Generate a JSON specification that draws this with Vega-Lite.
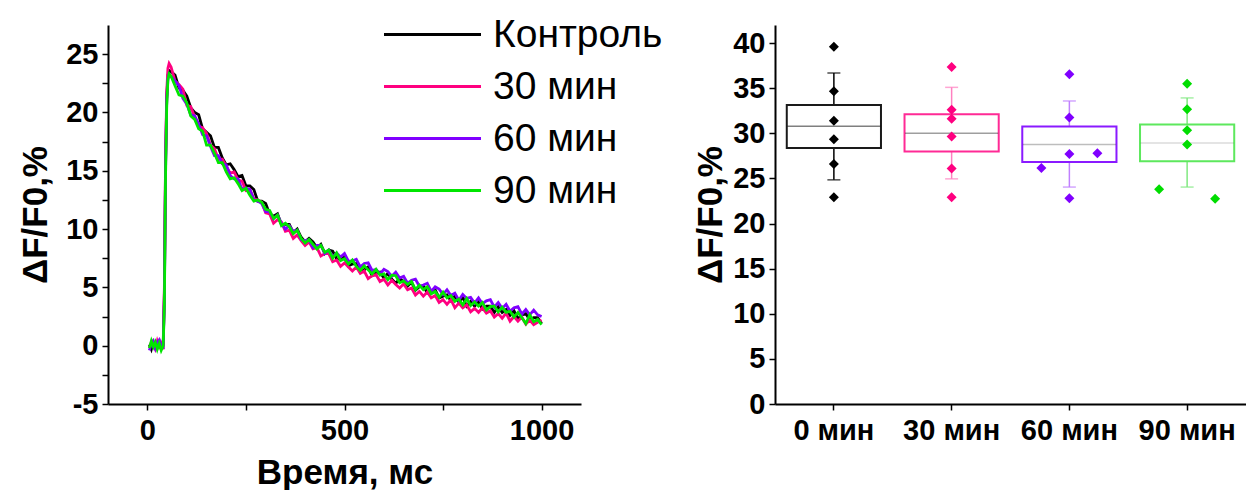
{
  "$schema": "https://vega.github.io/schema/vega-lite/v6.json",
  "padding": {"left": 18, "top": 15, "right": 0, "bottom": 0},
  "autosize": {"type": "pad"},
  "spacing": 30,
  "config": {
    "view": {"stroke": null},
    "font": "Liberation Sans",
    "axis": {
      "domainColor": "#000000", "domainWidth": 2, "tickColor": "#000000", "tickWidth": 1.5, "tickSize": 6,
      "labelFont": "Liberation Sans", "labelFontSize": 29, "labelFontWeight": "bold", "labelColor": "#000000",
      "titleFont": "Liberation Sans", "titleFontSize": 35, "titleFontWeight": "bold", "titleColor": "#000000",
      "grid": false
    }
  },
  "datasets": {
    "traces": [
      {"t":5,"Контроль":0.1,"30 мин":-0.2,"60 мин":-0.4,"90 мин":-0.2},
      {"t":10,"Контроль":-0.3,"30 мин":0.3,"60 мин":0.2,"90 мин":0.4},
      {"t":15,"Контроль":0.3,"30 мин":0.0,"60 мин":0.4,"90 мин":-0.1},
      {"t":20,"Контроль":-0.1,"30 мин":-0.3,"60 мин":-0.2,"90 мин":0.3},
      {"t":25,"Контроль":0.2,"30 мин":0.4,"60 мин":0.3,"90 мин":-0.3},
      {"t":30,"Контроль":0.4,"30 мин":-0.1,"60 мин":0.5,"90 мин":0.2},
      {"t":35,"Контроль":-0.2,"30 мин":0.2,"60 мин":0.0,"90 мин":-0.4},
      {"t":40,"Контроль":0.1,"30 мин":-0.3,"60 мин":-0.1,"90 мин":0.0},
      {"t":43,"Контроль":4.5,"30 мин":5.0,"60 мин":4.0,"90 мин":3.5},
      {"t":46,"Контроль":15.5,"30 мин":16.0,"60 мин":15.0,"90 мин":14.5},
      {"t":49,"Контроль":21.2,"30 мин":21.8,"60 мин":21.0,"90 мин":20.6},
      {"t":52,"Контроль":23.2,"30 мин":23.8,"60 мин":22.9,"90 мин":22.8},
      {"t":55,"Контроль":23.6,"30 мин":24.2,"60 мин":23.3,"90 мин":23.3},
      {"t":60,"Контроль":23.5,"30 мин":23.9,"60 мин":23.1,"90 мин":23.1},
      {"t":70,"Контроль":23.2,"30 мин":22.7,"60 мин":22.7,"90 мин":22.3},
      {"t":80,"Контроль":22.1,"30 мин":22.4,"60 мин":22.3,"90 мин":21.5},
      {"t":90,"Контроль":21.9,"30 мин":22.0,"60 мин":21.2,"90 мин":21.4},
      {"t":100,"Контроль":21.4,"30 мин":20.6,"60 мин":20.7,"90 мин":20.8},
      {"t":110,"Контроль":20.4,"30 мин":20.5,"60 мин":19.8,"90 мин":19.7},
      {"t":120,"Контроль":20.0,"30 мин":19.6,"60 мин":19.7,"90 мин":19.4},
      {"t":130,"Контроль":19.8,"30 мин":18.8,"60 мин":19.0,"90 мин":18.6},
      {"t":140,"Контроль":18.6,"30 мин":18.7,"60 мин":18.1,"90 мин":18.4},
      {"t":150,"Контроль":18.3,"30 мин":18.2,"60 мин":18.0,"90 мин":17.2},
      {"t":160,"Контроль":18.0,"30 мин":17.2,"60 мин":17.1,"90 мин":17.2},
      {"t":170,"Контроль":17.0,"30 мин":16.9,"60 мин":16.3,"90 мин":16.5},
      {"t":180,"Контроль":17.0,"30 мин":16.0,"60 мин":16.3,"90 мин":15.7},
      {"t":190,"Контроль":16.1,"30 мин":16.0,"60 мин":15.6,"90 мин":15.7},
      {"t":200,"Контроль":15.5,"30 мин":15.4,"60 мин":15.5,"90 мин":14.9},
      {"t":210,"Контроль":15.6,"30 мин":14.8,"60 мин":14.6,"90 мин":14.3},
      {"t":220,"Контроль":15.1,"30 мин":14.9,"60 мин":14.3,"90 мин":14.4},
      {"t":230,"Контроль":14.5,"30 мин":14.2,"60 мин":14.3,"90 мин":13.9},
      {"t":240,"Контроль":14.6,"30 мин":14.1,"60 мин":13.4,"90 мин":13.3},
      {"t":250,"Контроль":13.7,"30 мин":13.3,"60 мин":13.5,"90 мин":13.5},
      {"t":260,"Контроль":13.7,"30 мин":13.4,"60 мин":13.4,"90 мин":12.9},
      {"t":270,"Контроль":13.4,"30 мин":12.6,"60 мин":12.5,"90 мин":12.4},
      {"t":280,"Контроль":12.4,"30 мин":12.5,"60 мин":12.4,"90 мин":12.5},
      {"t":290,"Контроль":12.4,"30 мин":12.3,"60 мин":12.2,"90 мин":12.3},
      {"t":300,"Контроль":12.2,"30 мин":11.4,"60 мин":11.5,"90 мин":11.7},
      {"t":310,"Контроль":11.3,"30 мин":11.3,"60 мин":11.5,"90 мин":11.6},
      {"t":320,"Контроль":11.1,"30 мин":10.5,"60 мин":10.9,"90 мин":10.9},
      {"t":330,"Контроль":11.3,"30 мин":10.8,"60 мин":11.2,"90 мин":11.2},
      {"t":340,"Контроль":10.4,"30 мин":10.6,"60 мин":10.5,"90 мин":10.3},
      {"t":350,"Контроль":10.4,"30 мин":9.8,"60 мин":10.0,"90 мин":10.5},
      {"t":360,"Контроль":10.4,"30 мин":9.9,"60 мин":10.3,"90 мин":10.2},
      {"t":370,"Контроль":9.7,"30 мин":9.2,"60 мин":9.8,"90 мин":9.6},
      {"t":380,"Контроль":10.0,"30 мин":9.5,"60 мин":9.9,"90 мин":9.9},
      {"t":390,"Контроль":9.3,"30 мин":9.0,"60 мин":9.1,"90 мин":9.2},
      {"t":400,"Контроль":8.9,"30 мин":8.6,"60 мин":9.0,"90 мин":8.8},
      {"t":410,"Контроль":9.2,"30 мин":8.9,"60 мин":9.1,"90 мин":9.1},
      {"t":420,"Контроль":8.9,"30 мин":8.3,"60 мин":8.4,"90 мин":8.7},
      {"t":430,"Контроль":8.4,"30 мин":8.4,"60 мин":8.6,"90 мин":8.3},
      {"t":440,"Контроль":8.7,"30 мин":7.7,"60 мин":8.6,"90 мин":8.6},
      {"t":450,"Контроль":7.9,"30 мин":7.9,"60 мин":7.9,"90 мин":8.0},
      {"t":460,"Контроль":8.2,"30 мин":7.9,"60 мин":8.2,"90 мин":8.2},
      {"t":470,"Контроль":8.1,"30 мин":7.2,"60 мин":7.6,"90 мин":7.5},
      {"t":480,"Контроль":7.45,"30 мин":7.35,"60 мин":7.95,"90 мин":7.95},
      {"t":490,"Контроль":7.4,"30 мин":6.8,"60 мин":7.6,"90 мин":7.3},
      {"t":500,"Контроль":7.6,"30 мин":7.1,"60 мин":7.9,"90 мин":7.45},
      {"t":510,"Контроль":6.85,"30 мин":6.75,"60 мин":7.25,"90 мин":7.0},
      {"t":520,"Контроль":7.0,"30 мин":6.4,"60 мин":7.25,"90 мин":7.35},
      {"t":530,"Контроль":7.05,"30 мин":6.75,"60 мин":7.4,"90 мин":6.8},
      {"t":540,"Контроль":6.5,"30 мин":6.2,"60 мин":6.75,"90 мин":6.45},
      {"t":550,"Контроль":6.5,"30 мин":6.4,"60 мин":7.05,"90 мин":6.85},
      {"t":560,"Контроль":6.75,"30 мин":5.75,"60 мин":7.1,"90 мин":6.5},
      {"t":570,"Контроль":6.0,"30 мин":6.0,"60 мин":6.45,"90 мин":6.15},
      {"t":580,"Контроль":6.2,"30 мин":6.1,"60 мин":6.55,"90 мин":6.55},
      {"t":590,"Контроль":6.3,"30 мин":5.5,"60 мин":6.15,"90 мин":6.05},
      {"t":600,"Контроль":5.8,"30 мин":5.7,"60 мин":6.55,"90 мин":6.15},
      {"t":610,"Контроль":6.2,"30 мин":5.2,"60 мин":6.35,"90 мин":5.65},
      {"t":620,"Контроль":5.7,"30 мин":5.6,"60 мин":5.95,"90 мин":6.05},
      {"t":630,"Контроль":5.35,"30 мин":5.25,"60 мин":6.3,"90 мин":6.0},
      {"t":640,"Контроль":5.75,"30 мин":4.95,"60 мин":5.8,"90 мин":5.4},
      {"t":650,"Контроль":5.5,"30 мин":5.3,"60 мин":5.95,"90 мин":5.55},
      {"t":660,"Контроль":5.1,"30 мин":4.8,"60 мин":5.35,"90 мин":5.25},
      {"t":670,"Контроль":5.45,"30 мин":4.95,"60 мин":5.6,"90 мин":5.5},
      {"t":680,"Контроль":4.75,"30 мин":4.35,"60 мин":5.7,"90 мин":4.8},
      {"t":690,"Контроль":5.05,"30 мин":4.65,"60 мин":5.1,"90 мин":5.2},
      {"t":700,"Контроль":5.15,"30 мин":4.25,"60 мин":5.2,"90 мин":4.8},
      {"t":710,"Контроль":4.5,"30 мин":4.6,"60 мин":5.35,"90 мин":5.05},
      {"t":720,"Контроль":4.5,"30 мин":4.1,"60 мин":4.65,"90 мин":4.45},
      {"t":730,"Контроль":4.8,"30 мин":4.3,"60 мин":5.05,"90 мин":4.65},
      {"t":740,"Контроль":4.1,"30 мин":3.7,"60 мин":4.85,"90 мин":4.15},
      {"t":750,"Контроль":4.25,"30 мин":3.95,"60 мин":4.4,"90 мин":4.6},
      {"t":760,"Контроль":4.35,"30 мин":3.55,"60 мин":4.8,"90 мин":4.1},
      {"t":770,"Контроль":3.85,"30 мин":3.95,"60 мин":4.3,"90 мин":4.3},
      {"t":780,"Контроль":4.25,"30 мин":3.25,"60 мин":4.5,"90 мин":3.8},
      {"t":790,"Контроль":3.75,"30 мин":3.65,"60 мин":3.9,"90 мин":4.0},
      {"t":800,"Контроль":4.15,"30 мин":3.25,"60 мин":4.4,"90 мин":3.5},
      {"t":810,"Контроль":3.4,"30 мин":3.5,"60 мин":4.05,"90 мин":4.05},
      {"t":820,"Контроль":3.8,"30 мин":2.9,"60 мин":4.15,"90 мин":3.45},
      {"t":830,"Контроль":3.4,"30 мин":3.2,"60 мин":3.65,"90 мин":3.75},
      {"t":840,"Контроль":3.75,"30 мин":2.85,"60 мин":4.1,"90 мин":3.4},
      {"t":850,"Контроль":3.15,"30 мин":3.25,"60 мин":3.6,"90 мин":3.7},
      {"t":860,"Контроль":3.4,"30 мин":2.8,"60 мин":3.85,"90 мин":3.05},
      {"t":870,"Контроль":3.4,"30 мин":3.0,"60 мин":3.95,"90 мин":3.35},
      {"t":880,"Контроль":2.85,"30 мин":2.45,"60 мин":3.3,"90 мин":3.4},
      {"t":890,"Контроль":3.35,"30 мин":2.75,"60 мин":3.7,"90 мин":2.9},
      {"t":900,"Контроль":2.85,"30 мин":2.35,"60 мин":3.2,"90 мин":3.3},
      {"t":910,"Контроль":3.1,"30 мин":2.8,"60 мин":3.55,"90 мин":2.85},
      {"t":920,"Контроль":2.6,"30 мин":2.1,"60 мин":2.95,"90 мин":2.95},
      {"t":930,"Контроль":3.0,"30 мин":2.5,"60 мин":3.25,"90 мин":2.45},
      {"t":940,"Контроль":2.3,"30 мин":2.1,"60 мин":3.35,"90 мин":2.85},
      {"t":950,"Контроль":2.65,"30 мин":2.45,"60 мин":2.7,"90 мин":2.4},
      {"t":960,"Контроль":2.75,"30 мин":1.85,"60 мин":3.1,"90 мин":1.9},
      {"t":970,"Контроль":2.2,"30 мин":2.2,"60 мин":2.65,"90 мин":2.65},
      {"t":980,"Контроль":2.4,"30 мин":1.8,"60 мин":3.05,"90 мин":2.05},
      {"t":990,"Контроль":2.4,"30 мин":2.0,"60 мин":2.65,"90 мин":2.25},
      {"t":1000,"Контроль":1.9,"30 мин":2.2,"60 мин":2.5,"90 мин":1.8}
    ],
    "boxes": [
      {"grp":"0 мин","q1":28.38,"q3":33.14,"med":30.78,"lo":24.84,"hi":36.68},
      {"grp":"30 мин","q1":27.98,"q3":32.1,"med":30.0,"lo":24.95,"hi":35.09},
      {"grp":"60 мин","q1":26.83,"q3":30.74,"med":28.75,"lo":24.04,"hi":33.58},
      {"grp":"90 мин","q1":26.9,"q3":30.96,"med":28.93,"lo":24.04,"hi":33.92}
    ],
    "points": [
      {"grp":"0 мин","v":39.6,"lane":"C"},
      {"grp":"0 мин","v":34.65,"lane":"C"},
      {"grp":"0 мин","v":31.4,"lane":"C"},
      {"grp":"0 мин","v":29.35,"lane":"C"},
      {"grp":"0 мин","v":26.6,"lane":"C"},
      {"grp":"0 мин","v":22.9,"lane":"C"},
      {"grp":"30 мин","v":37.35,"lane":"C"},
      {"grp":"30 мин","v":32.6,"lane":"C"},
      {"grp":"30 мин","v":31.6,"lane":"C"},
      {"grp":"30 мин","v":29.65,"lane":"C"},
      {"grp":"30 мин","v":26.1,"lane":"C"},
      {"grp":"30 мин","v":22.9,"lane":"C"},
      {"grp":"60 мин","v":36.55,"lane":"C"},
      {"grp":"60 мин","v":31.75,"lane":"C"},
      {"grp":"60 мин","v":27.7,"lane":"C"},
      {"grp":"60 мин","v":27.8,"lane":"R"},
      {"grp":"60 мин","v":26.15,"lane":"L"},
      {"grp":"60 мин","v":22.8,"lane":"C"},
      {"grp":"90 мин","v":35.5,"lane":"C"},
      {"grp":"90 мин","v":32.65,"lane":"C"},
      {"grp":"90 мин","v":30.35,"lane":"C"},
      {"grp":"90 мин","v":28.75,"lane":"C"},
      {"grp":"90 мин","v":23.8,"lane":"L"},
      {"grp":"90 мин","v":22.75,"lane":"R"}
    ]
  },
  "hconcat": [
    {
      "width": 473,
      "height": 379,
      "data": {"name": "traces"},
      "transform": [{"fold": ["Контроль", "30 мин", "60 мин", "90 мин"], "as": ["series", "v"]}],
      "mark": {"type": "line", "strokeWidth": 2.8},
      "encoding": {
        "x": {
          "field": "t", "type": "quantitative",
          "scale": {"domain": [-100, 1100], "nice": false, "zero": false},
          "axis": {"values": [0, 250, 500, 750, 1000], "labelExpr": "datum.value % 500 === 0 ? toString(datum.value) : ''", "title": "Время, мс", "labelPadding": 6, "titlePadding": 10}
        },
        "y": {
          "field": "v", "type": "quantitative",
          "scale": {"domain": [-5, 27.5], "nice": false, "zero": false},
          "axis": {"values": [-5, -2.5, 0, 2.5, 5, 7.5, 10, 12.5, 15, 17.5, 20, 22.5, 25], "labelExpr": "datum.value % 5 === 0 ? toString(datum.value) : ''", "title": "ΔF/F0,%", "labelPadding": 4, "titlePadding": 12}
        },
        "color": {
          "field": "series", "type": "nominal",
          "scale": {"domain": ["Контроль", "30 мин", "60 мин", "90 мин"], "range": ["#000000", "#ff0080", "#8000ff", "#00e600"]},
          "legend": {
            "orient": "none", "legendX": 305, "legendY": -10, "title": null, "direction": "vertical",
            "symbolType": "M-4,0H4", "symbolSize": 588, "symbolStrokeWidth": 3, "symbolOpacity": 1,
            "labelFontSize": 39, "labelFont": "Liberation Sans", "labelFontWeight": "normal", "labelColor": "#000000",
            "labelLimit": 400, "labelOffset": 41, "rowPadding": 12
          }
        }
      }
    },
    {
      "width": 471,
      "height": 379,
      "encoding": {
        "x": {
          "field": "grp", "type": "nominal",
          "scale": {"domain": ["0 мин", "30 мин", "60 мин", "90 мин"], "paddingInner": 0, "paddingOuter": 0},
          "axis": {"title": null, "labelAngle": 0, "labelPadding": 6}
        }
      },
      "layer": [
        {
          "data": {"name": "boxes"},
          "mark": {"type": "rule", "strokeWidth": 1.5},
          "encoding": {
            "y": {
              "field": "lo", "type": "quantitative",
              "scale": {"domain": [0, 42], "nice": false},
              "axis": {"values": [0, 2.5, 5, 7.5, 10, 12.5, 15, 17.5, 20, 22.5, 25, 27.5, 30, 32.5, 35, 37.5, 40], "labelExpr": "datum.value % 5 === 0 ? toString(datum.value) : ''", "title": "ΔF/F0,%", "labelPadding": 4, "titlePadding": 4}
            },
            "y2": {"field": "hi"},
            "color": {"field": "grp", "type": "nominal", "scale": {"domain": ["0 мин", "30 мин", "60 мин", "90 мин"], "range": ["#000000", "#ff80c0", "#c080ff", "#80e880"]}, "legend": null}
          }
        },
        {
          "data": {"name": "boxes"},
          "mark": {"type": "bar", "width": {"band": 0.8}, "fill": "#ffffff", "strokeWidth": 2},
          "encoding": {
            "y": {"field": "q1", "type": "quantitative"},
            "y2": {"field": "q3"},
            "stroke": {"field": "grp", "type": "nominal", "scale": {"domain": ["0 мин", "30 мин", "60 мин", "90 мин"], "range": ["#1a1a1a", "#ff2a95", "#8a1aff", "#5de85d"]}, "legend": null}
          }
        },
        {
          "data": {"name": "boxes"},
          "mark": {"type": "tick", "size": 93, "thickness": 1.5, "color": "#000000"},
          "encoding": {
            "y": {"field": "med", "type": "quantitative"},
            "opacity": {"field": "grp", "type": "nominal", "scale": {"domain": ["0 мин", "30 мин", "60 мин", "90 мин"], "range": [0.5, 0.14, 0.25, 0.65]}, "legend": null}
          }
        },
        {
          "data": {"name": "boxes"},
          "mark": {"type": "tick", "size": 13, "thickness": 1.5},
          "encoding": {
            "y": {"field": "lo", "type": "quantitative"},
            "color": {"field": "grp", "type": "nominal", "legend": null}
          }
        },
        {
          "data": {"name": "boxes"},
          "mark": {"type": "tick", "size": 13, "thickness": 1.5},
          "encoding": {
            "y": {"field": "hi", "type": "quantitative"},
            "color": {"field": "grp", "type": "nominal", "legend": null}
          }
        },
        {
          "data": {"name": "points"},
          "transform": [{"filter": "datum.lane === 'C'"}],
          "mark": {"type": "point", "shape": "diamond", "filled": true, "size": 100, "opacity": 1},
          "encoding": {
            "y": {"field": "v", "type": "quantitative"},
            "fill": {"field": "grp", "type": "nominal", "scale": {"domain": ["0 мин", "30 мин", "60 мин", "90 мин"], "range": ["#000000", "#ff0080", "#8000ff", "#00dd00"]}, "legend": null}
          }
        },
        {
          "data": {"name": "points"},
          "transform": [{"filter": "datum.lane === 'L'"}],
          "mark": {"type": "point", "shape": "diamond", "filled": true, "size": 100, "opacity": 1, "xOffset": -28},
          "encoding": {
            "y": {"field": "v", "type": "quantitative"},
            "fill": {"field": "grp", "type": "nominal", "legend": null}
          }
        },
        {
          "data": {"name": "points"},
          "transform": [{"filter": "datum.lane === 'R'"}],
          "mark": {"type": "point", "shape": "diamond", "filled": true, "size": 100, "opacity": 1, "xOffset": 28},
          "encoding": {
            "y": {"field": "v", "type": "quantitative"},
            "fill": {"field": "grp", "type": "nominal", "legend": null}
          }
        }
      ]
    }
  ],
  "resolve": {"scale": {"color": "independent", "x": "independent", "y": "independent", "fill": "independent", "stroke": "independent", "opacity": "independent"}}
}
